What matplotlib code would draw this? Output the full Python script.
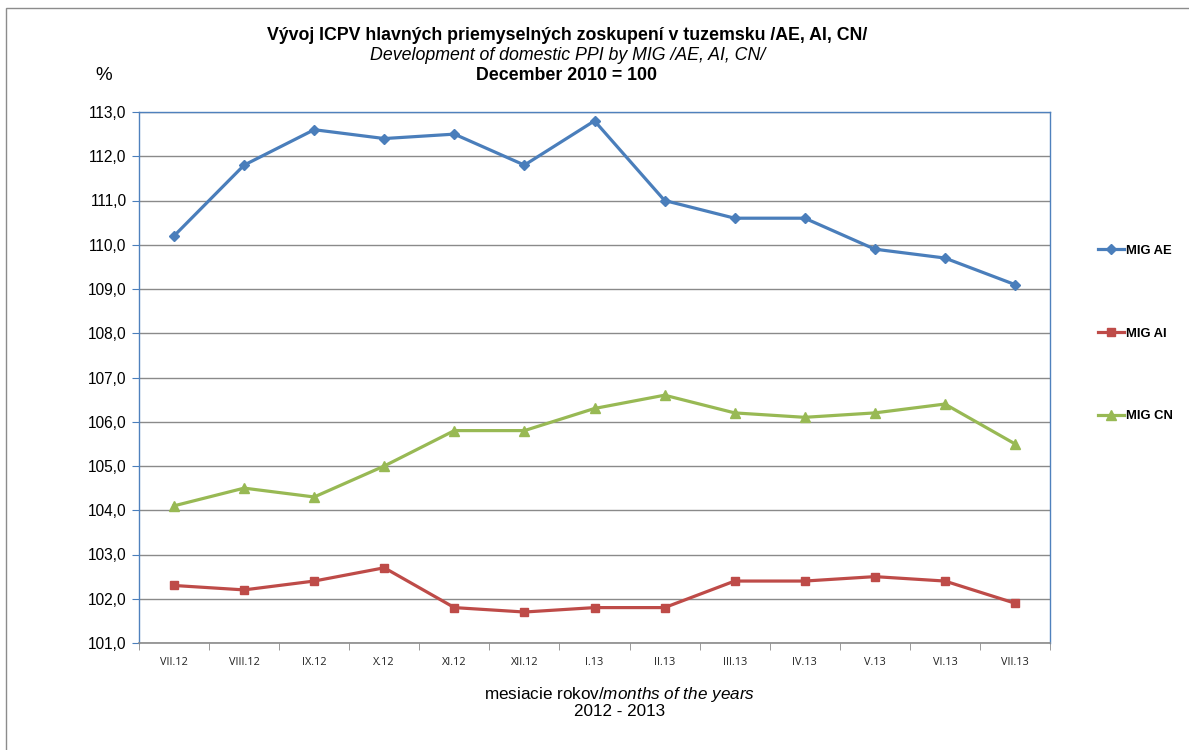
import matplotlib
matplotlib.use("Agg")
import matplotlib.pyplot as plt
from matplotlib.patches import Rectangle
from matplotlib.ticker import FixedLocator, FuncFormatter
import numpy as np

plt.rcParams["font.family"] = ["Liberation Sans", "DejaVu Sans"]
plt.rcParams["mathtext.fontset"] = "custom"
plt.rcParams["mathtext.rm"] = "Liberation Sans"
plt.rcParams["mathtext.it"] = "Liberation Sans:italic"

months = ["VII.12", "VIII.12", "IX.12", "X.12", "XI.12", "XII.12", "I.13",
          "II.13", "III.13", "IV.13", "V.13", "VI.13", "VII.13"]
mig_ae = [110.2, 111.8, 112.6, 112.4, 112.5, 111.8, 112.8, 111.0, 110.6, 110.6, 109.9, 109.7, 109.1]
mig_ai = [102.3, 102.2, 102.4, 102.7, 101.8, 101.7, 101.8, 101.8, 102.4, 102.4, 102.5, 102.4, 101.9]
mig_cn = [104.1, 104.5, 104.3, 105.0, 105.8, 105.8, 106.3, 106.6, 106.2, 106.1, 106.2, 106.4, 105.5]

fig = plt.figure(figsize=(11.89, 7.5), dpi=100)
ax = fig.add_axes([139 / 1189, 1 - 643 / 750, 911 / 1189, 531 / 750])

# outer chart border (cut off at right/bottom)
fig.patches.append(Rectangle((6 / 1189, -0.1), 1.2, 1 - 8 / 750 + 0.1,
                             transform=fig.transFigure, fill=False,
                             ec="#8c8c8c", lw=1))

x = np.arange(len(months))
ax.plot(x, mig_ae, color="#4A7EBB", lw=2.3, marker="D", ms=5.5, label="MIG AE")
ax.plot(x, mig_ai, color="#BE4B48", lw=2.3, marker="s", ms=6, label="MIG AI")
ax.plot(x, mig_cn, color="#98B954", lw=2.3, marker="^", ms=6.5, label="MIG CN")

ax.set_xlim(-0.5, len(months) - 0.5)
ax.set_ylim(101, 113)
ax.set_yticks(np.arange(101, 113.1, 1))
ax.yaxis.set_major_formatter(FuncFormatter(lambda v, p: f"{v:.1f}".replace(".", ",")))
ax.grid(axis="y", color="#8a8a8a", lw=1)
ax.set_axisbelow(True)

ax.set_xticks(x)
ax.set_xticklabels(months, fontsize=7.8, family=["Open Sans", "DejaVu Sans"], color="#222222")
ax.xaxis.set_minor_locator(FixedLocator(np.arange(-0.5, len(months), 1)))
ax.tick_params(axis="x", which="major", length=0, pad=10)
ax.tick_params(axis="x", which="minor", length=5, color="#8a8a8a", direction="out")
ax.tick_params(axis="y", length=5, color="#4A7EBB", labelsize=11.2, pad=4)

for s in ["left", "top", "right"]:
    ax.spines[s].set_color("#4F81BD")
    ax.spines[s].set_linewidth(1)
ax.spines["bottom"].set_color("#8a8a8a")
ax.spines["bottom"].set_linewidth(1.2)

leg = ax.legend(loc="upper left", bbox_to_anchor=(1.04, 0.772), frameon=False,
                labelspacing=5.4, handlelength=2.0, handletextpad=0.1,
                prop={"weight": "bold", "size": 9.4})

fig.text(567 / 1189, 1 - 35 / 750, "Vývoj ICPV hlavných priemyselných zoskupení v tuzemsku /AE, AI, CN/",
         ha="center", va="center", fontsize=12.8, weight="bold")
fig.text(568 / 1189, 1 - 56 / 750, "Development of domestic PPI by MIG /AE, AI, CN/",
         ha="center", va="center", fontsize=12.8, style="italic")
fig.text(567 / 1189, 1 - 75 / 750, "December 2010 = 100",
         ha="center", va="center", fontsize=12.8, weight="bold")
fig.text(104 / 1189, 1 - 76 / 750, "%", ha="center", va="center", fontsize=13.5)

fig.text(620 / 1189, 1 - 694 / 750, r"mesiacie rokov/$\mathit{months\ of\ the\ years}$",
         ha="center", va="center", fontsize=12.3)
fig.text(620 / 1189, 1 - 712 / 750, "2012 - 2013", ha="center", va="center", fontsize=12.3)

fig.savefig("out.png", dpi=100)
